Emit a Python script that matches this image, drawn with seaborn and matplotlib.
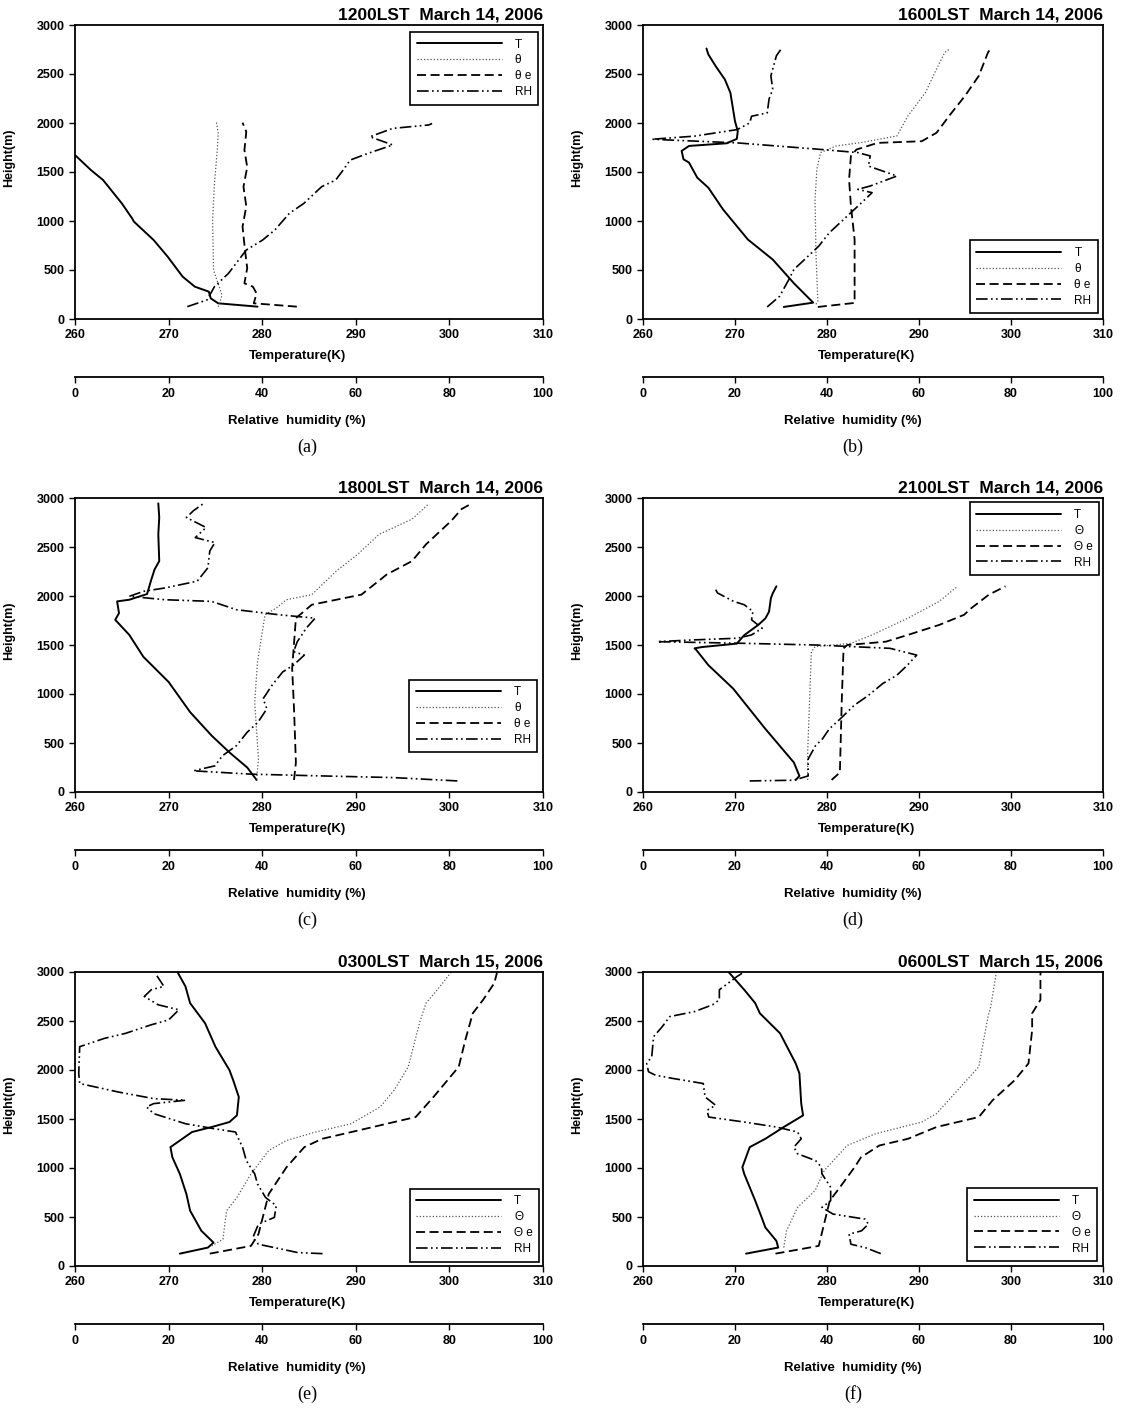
import matplotlib
matplotlib.use("Agg")
import matplotlib.pyplot as plt
import seaborn as sns

# ---------------- data ----------------
titles = ["1200LST  March 14, 2006", "1600LST  March 14, 2006", "1800LST  March 14, 2006",
          "2100LST  March 14, 2006", "0300LST  March 15, 2006", "0600LST  March 15, 2006"]
panel_tags = ["(a)", "(b)", "(c)", "(d)", "(e)", "(f)"]
legend_labels_lower = ["T", "θ", "θ e", "RH"]
legend_labels_upper = ["T", "Θ", "Θ e", "RH"]
temp_ticks = [260, 270, 280, 290, 300, 310]
rh_ticks = [0, 20, 40, 60, 80, 100]
height_ticks = [0, 500, 1000, 1500, 2000, 2500, 3000]

# (a) 1200LST
a_T_x = [279.5, 275.3, 274.5, 274.3, 272.8, 271.5, 269.9, 268.4, 266.3, 266.1, 265.0, 263.0, 261.7, 260.0]
a_T_h = [126, 160, 211, 279, 330, 432, 636, 806, 993, 1027, 1180, 1418, 1520, 1673]
a_th_x = [275.3, 275.5, 275.7, 274.8, 274.7, 274.9, 275.2, 275.3, 275.1]
a_th_h = [125, 177, 245, 500, 1010, 1384, 1724, 1895, 2013]
a_the_x = [283.7, 279.1, 279.4, 279.0, 278.1, 278.4, 278.2, 277.9, 278.3, 278.0, 278.4, 278.1, 278.3, 277.9]
a_the_h = [126, 160, 262, 330, 364, 520, 670, 942, 1150, 1350, 1550, 1724, 1911, 2003]
a_rh = [24.0, 28.2, 29.8, 32.8, 36.6, 40.1, 42.7, 45.8, 48.9, 52.7, 55.7, 57.3, 58.8, 62.6, 67.9, 63.0, 67.9, 75.6, 76.3]
a_rh_h = [126, 194, 330, 466, 704, 806, 908, 1078, 1180, 1350, 1418, 1520, 1622, 1690, 1776, 1860, 1945, 1980, 1995]

# (b) 1600LST
b_T_x = [275.3, 278.5, 276.4, 274.1, 271.4, 268.7, 267.1, 265.9, 265.0, 264.4, 264.2, 265.0, 269.1, 270.2, 270.3, 270.0, 269.5, 268.9, 267.9, 267.1, 266.9]
b_T_h = [123, 167, 365, 607, 811, 1118, 1340, 1442, 1596, 1630, 1715, 1766, 1793, 1838, 1916, 2018, 2308, 2444, 2580, 2700, 2760]
b_th_x = [278.8, 279.0, 278.8, 278.7, 278.9, 279.3, 281.0, 283.7, 287.6, 288.8, 290.7, 291.9, 292.8, 293.4]
b_th_h = [150, 180, 675, 1220, 1527, 1698, 1766, 1800, 1868, 2072, 2311, 2550, 2720, 2760]
b_the_x = [279.0, 283.0, 283.0, 282.6, 282.4, 282.6, 283.2, 285.5, 290.3, 291.9, 293.4, 295.0, 296.5, 297.5, 297.8]
b_the_h = [123, 164, 811, 1152, 1425, 1664, 1729, 1797, 1814, 1900, 2087, 2277, 2481, 2720, 2760]
b_rh = [27.0, 29.7, 31.7, 32.8, 35.9, 38.2, 40.5, 44.4, 47.5, 49.8, 46.7, 49.4, 55.2, 49.0, 49.4, 46.7, 39.0, 20.5, 1.9, 11.2, 20.5, 23.2, 23.6, 27.0, 27.4, 28.2, 27.8, 29.0, 30.1]
b_rh_h = [123, 232, 402, 505, 641, 743, 880, 1050, 1186, 1289, 1323, 1357, 1459, 1561, 1664, 1698, 1729, 1797, 1834, 1866, 1933, 2001, 2069, 2103, 2243, 2345, 2481, 2686, 2760]

# (c) 1800LST
c_T_x = [279.4, 278.4, 276.5, 274.6, 272.3, 270.0, 267.3, 265.8, 264.3, 264.7, 264.5, 265.8, 267.7, 268.1, 268.5, 269.0, 268.9, 269.0, 268.9]
c_T_h = [123, 250, 404, 575, 815, 1123, 1380, 1603, 1757, 1825, 1945, 1962, 2020, 2151, 2271, 2356, 2630, 2801, 2945]
c_th_x = [279.4, 279.6, 279.2, 279.5, 280.3, 281.5, 282.6, 285.3, 287.9, 290.2, 292.5, 296.0, 297.7]
c_th_h = [130, 336, 918, 1329, 1808, 1877, 1962, 2014, 2253, 2425, 2630, 2784, 2932]
c_the_x = [283.4, 283.6, 283.4, 283.2, 283.6, 285.3, 290.6, 293.3, 296.0, 297.5, 300.2, 301.3, 302.4]
c_the_h = [123, 301, 849, 1260, 1774, 1911, 2014, 2219, 2356, 2527, 2767, 2887, 2945]
c_rh = [81.7, 68.1, 52.8, 37.6, 25.3, 29.9, 31.5, 34.5, 36.8, 39.1, 41.0, 40.2, 42.1, 44.4, 46.7, 49.0, 46.7, 47.5, 49.4, 51.3, 43.7, 34.5, 29.2, 19.2, 11.6, 14.7, 19.2, 26.1, 28.4, 28.8, 29.9, 25.7, 28.0, 23.8, 25.3, 27.3]
c_rh_h = [113, 147, 164, 182, 216, 267, 370, 473, 610, 712, 849, 952, 1089, 1226, 1295, 1397, 1432, 1534, 1671, 1774, 1808, 1860, 1945, 1962, 1997, 2048, 2082, 2151, 2288, 2459, 2545, 2596, 2699, 2801, 2870, 2938]

# (d) 2100LST
d_T_x = [276.6, 277.0, 276.4, 273.3, 269.8, 267.1, 265.8, 265.6, 266.4, 270.2, 271.0, 272.5, 273.3, 273.7, 273.9, 274.1, 274.5]
d_T_h = [123, 164, 301, 644, 1055, 1295, 1449, 1466, 1479, 1514, 1600, 1703, 1771, 1840, 1977, 2027, 2099]
d_th_x = [277.9, 277.9, 278.3, 278.7, 282.6, 284.9, 288.8, 292.2, 294.2]
d_th_h = [123, 404, 1432, 1483, 1517, 1603, 1774, 1945, 2099]
d_the_x = [280.5, 281.4, 281.6, 281.8, 282.2, 286.4, 288.8, 292.2, 294.9, 295.7, 297.6, 299.4]
d_the_h = [123, 199, 918, 1466, 1500, 1534, 1603, 1705, 1808, 1877, 2014, 2099]
d_rh = [23.2, 32.8, 35.9, 35.9, 37.5, 39.0, 40.5, 42.9, 45.9, 49.0, 52.1, 55.2, 57.5, 59.5, 53.7, 37.5, 22.0, 3.1, 10.4, 20.5, 23.6, 25.9, 23.6, 23.9, 22.0, 19.7, 16.2, 15.8]
d_rh_h = [113, 120, 164, 336, 473, 541, 644, 747, 884, 986, 1106, 1192, 1295, 1397, 1466, 1500, 1517, 1534, 1551, 1569, 1603, 1671, 1757, 1843, 1911, 1945, 2031, 2065]

# (e) 0300LST
e_T_x = [271.2, 274.2, 274.8, 273.5, 272.3, 271.9, 271.2, 270.4, 270.2, 272.5, 274.6, 276.5, 277.3, 277.5, 276.9, 276.5, 275.0, 273.9, 272.3, 271.8, 271.0]
e_T_h = [126, 188, 239, 359, 564, 735, 940, 1110, 1213, 1367, 1418, 1469, 1537, 1725, 1896, 1999, 2238, 2477, 2682, 2853, 2990]
e_th_x = [274.6, 275.8, 276.2, 277.3, 278.8, 280.7, 282.6, 285.7, 289.5, 292.6, 294.1, 295.6, 296.8, 297.5, 299.0, 300.2]
e_th_h = [205, 273, 564, 700, 940, 1179, 1281, 1367, 1452, 1623, 1794, 2033, 2477, 2682, 2853, 3000]
e_the_x = [274.4, 278.8, 279.6, 280.7, 282.6, 284.5, 286.4, 290.3, 294.1, 296.4, 298.3, 299.8, 301.0, 301.7, 302.5, 303.6, 304.8, 305.1]
e_the_h = [126, 205, 325, 735, 1008, 1213, 1298, 1384, 1469, 1520, 1725, 1896, 2033, 2306, 2579, 2716, 2887, 3000]
e_rh = [52.9, 47.6, 39.2, 38.0, 39.2, 42.6, 43.0, 40.7, 39.0, 38.4, 36.6, 35.8, 35.1, 34.3, 29.7, 23.6, 16.8, 15.3, 16.8, 23.6, 16.8, 9.2, 1.0, 0.8, 1.0, 6.3, 10.8, 16.2, 20.0, 22.2, 17.8, 14.8, 16.3, 19.0, 17.1]
e_rh_h = [126, 137, 222, 290, 427, 496, 615, 700, 837, 940, 1076, 1213, 1281, 1367, 1401, 1452, 1555, 1623, 1657, 1691, 1708, 1776, 1862, 1965, 2238, 2323, 2374, 2460, 2511, 2614, 2665, 2750, 2819, 2853, 2990]

# (f) 0600LST
f_T_x = [271.2, 274.7, 274.5, 273.3, 272.9, 272.2, 271.0, 270.8, 271.6, 273.3, 275.3, 277.4, 277.2, 277.0, 276.6, 274.9, 272.7, 272.2, 271.0, 269.3]
f_T_h = [126, 188, 256, 393, 495, 666, 940, 1008, 1213, 1298, 1418, 1537, 1657, 1965, 2067, 2374, 2579, 2682, 2819, 3000]
f_th_x = [275.3, 275.6, 276.8, 278.7, 279.7, 282.2, 285.3, 290.3, 291.9, 294.2, 296.5, 297.5, 297.8, 298.4]
f_th_h = [188, 359, 598, 769, 974, 1230, 1350, 1469, 1555, 1794, 2033, 2545, 2648, 2990]
f_the_x = [274.4, 279.1, 279.5, 280.3, 281.4, 283.0, 283.7, 285.7, 288.8, 291.9, 296.5, 298.0, 300.4, 301.9, 302.3, 302.3, 303.2, 303.2]
f_the_h = [126, 205, 359, 666, 803, 1008, 1110, 1230, 1298, 1418, 1520, 1691, 1896, 2067, 2409, 2579, 2716, 3000]
f_rh = [51.7, 48.3, 45.2, 44.8, 47.5, 49.0, 48.3, 41.3, 38.9, 40.8, 40.8, 38.9, 38.8, 37.5, 33.6, 32.8, 34.4, 33.6, 29.0, 22.0, 14.3, 13.9, 15.8, 13.5, 13.1, 6.6, 2.7, 1.2, 0.8, 1.9, 2.3, 4.2, 5.8, 11.2, 15.1, 16.6, 16.6, 20.5, 22.0]
f_rh_h = [126, 188, 222, 325, 359, 427, 478, 530, 598, 666, 803, 940, 1008, 1076, 1145, 1213, 1298, 1367, 1418, 1469, 1520, 1589, 1640, 1725, 1862, 1913, 1947, 1982, 2067, 2136, 2340, 2443, 2545, 2596, 2665, 2716, 2819, 2956, 3000]

panels = [
    (a_T_x, a_T_h, a_th_x, a_th_h, a_the_x, a_the_h, a_rh, a_rh_h),
    (b_T_x, b_T_h, b_th_x, b_th_h, b_the_x, b_the_h, b_rh, b_rh_h),
    (c_T_x, c_T_h, c_th_x, c_th_h, c_the_x, c_the_h, c_rh, c_rh_h),
    (d_T_x, d_T_h, d_th_x, d_th_h, d_the_x, d_the_h, d_rh, d_rh_h),
    (e_T_x, e_T_h, e_th_x, e_th_h, e_the_x, e_the_h, e_rh, e_rh_h),
    (f_T_x, f_T_h, f_th_x, f_th_h, f_the_x, f_the_h, f_rh, f_rh_h),
]

# ---------------- style ----------------
sns.set_style("ticks")
plt.rcParams['font.family'] = ['Liberation Sans', 'DejaVu Sans']
plt.rcParams['font.weight'] = 'bold'
plt.rcParams['axes.labelweight'] = 'bold'
plt.rcParams['axes.titleweight'] = 'bold'
for key in ['text.color', 'axes.labelcolor', 'xtick.color', 'ytick.color',
            'xtick.labelcolor', 'ytick.labelcolor', 'axes.edgecolor']:
    plt.rcParams[key] = 'black'

W, H = 1133, 1410
fig = plt.figure(figsize=(W / 100, H / 100), dpi=100)

col_left = [75, 643]
col_width = [468, 460]
row_top = [25, 498, 972]
ax_h = 294

legend_cfg = [
    ("upper right", (0.99, 0.976)),
    ("lower right", (0.989, 0.02)),
    ("lower right", (0.988, 0.135)),
    ("upper right", (0.992, 0.985)),
    ("lower right", (0.992, 0.015)),
    ("lower right", (0.987, 0.017)),
]

ls_T = '-'
ls_th = (0, (1, 1.6))
ls_the = (0, (5, 2.5))
ls_rh = (0, (7, 2, 1, 2, 1, 2))

for i, data in enumerate(panels):
    r, c = divmod(i, 2)
    l, w = col_left[c], col_width[c]
    t = row_top[r]
    ax = fig.add_axes([l / W, 1 - (t + ax_h) / H, w / W, ax_h / H])
    Tx, Th, thx, thh, thex, theh, rh, rhh = data

    sns.lineplot(x=Tx, y=Th, sort=False, estimator=None, color='black', linewidth=1.4,
                 linestyle=ls_T, ax=ax)
    h_T = ax.lines[-1]
    sns.lineplot(x=thx, y=thh, sort=False, estimator=None, color='#555555', linewidth=0.9,
                 linestyle=ls_th, ax=ax)
    h_th = ax.lines[-1]
    sns.lineplot(x=thex, y=theh, sort=False, estimator=None, color='black', linewidth=1.3,
                 linestyle=ls_the, ax=ax)
    h_the = ax.lines[-1]

    ax.set_xlim(260, 310)
    ax.set_ylim(0, 3000)
    ax.set_xticks(temp_ticks)
    ax.set_yticks(height_ticks)
    ax.tick_params(direction='out', length=4, width=1, labelsize=9, colors='black')
    for s in ax.spines.values():
        s.set_visible(True)
        s.set_color('black')
        s.set_linewidth(1.3)
    ax.set_xlabel("Temperature(K)", fontsize=9.5)
    ax.xaxis.set_label_coords(0.475 if c == 0 else 0.485, -0.105)
    ax.set_ylabel("Height(m)", fontsize=9)
    ax.yaxis.set_label_coords(-0.127 if c == 0 else -0.13, 0.55)
    ax.set_title(titles[i], loc='right', fontsize=12.5, pad=4)

    # relative humidity axis
    ax2 = ax.twiny()
    sns.lineplot(x=rh, y=rhh, sort=False, estimator=None, color='black', linewidth=1.2,
                 linestyle=ls_rh, ax=ax2)
    h_rh = ax2.lines[-1]
    ax2.set_xlim(0, 100)
    ax2.set_ylim(0, 3000)
    ax2.set_xticks(rh_ticks)
    ax2.xaxis.set_ticks_position('bottom')
    ax2.xaxis.set_label_position('bottom')
    for name in ['top', 'left', 'right']:
        ax2.spines[name].set_visible(False)
    ax2.spines['bottom'].set_visible(True)
    ax2.spines['bottom'].set_position(('outward', 42))
    ax2.spines['bottom'].set_color('black')
    ax2.spines['bottom'].set_linewidth(1.3)
    ax2.tick_params(axis='x', direction='out', length=4, width=1, labelsize=9, colors='black')
    ax2.set_xlabel("Relative  humidity (%)", fontsize=9.5)
    ax2.xaxis.set_label_coords(0.474 if c == 0 else 0.457, -0.325)

    labels = legend_labels_lower if i < 3 else legend_labels_upper
    loc, anchor = legend_cfg[i]
    leg = ax2.legend([h_T, h_th, h_the, h_rh], labels, loc=loc, bbox_to_anchor=anchor,
                     borderaxespad=0, fancybox=False, framealpha=1, edgecolor='black',
                     handlelength=7.2, handletextpad=1.1, labelspacing=0.33, borderpad=0.55,
                     prop={'size': 8.5, 'weight': 'normal'})
    leg.get_frame().set_linewidth(1.2)

    ax.text(0.496 if c == 0 else 0.457, -0.435, panel_tags[i], transform=ax.transAxes,
            ha='center', va='center', fontsize=13, fontweight='normal',
            family=['Liberation Serif', 'DejaVu Serif'])

fig.savefig('out.png', dpi=100)
